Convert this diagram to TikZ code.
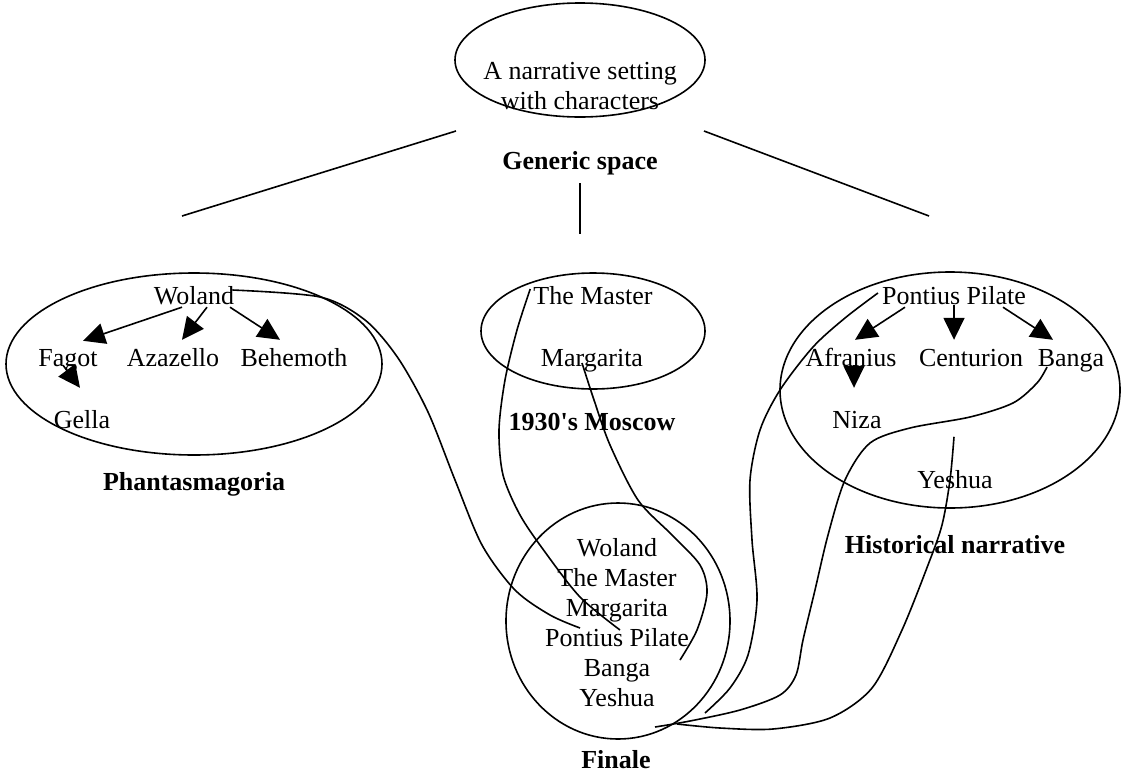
\documentclass[tikz,border=0pt]{standalone}
\usepackage{fontspec}
\setmainfont{Liberation Serif}
\usetikzlibrary{shapes.geometric,arrows.meta}

\begin{document}
\begin{tikzpicture}[x=1pt,y=-1pt,
  every node/.style={font=\fontsize{26}{30}\selectfont, inner sep=0pt},
  who/.style={text height=18pt, text depth=6pt},
  title/.style={font=\fontsize{26}{30}\selectfont\bfseries},
  space/.style={draw, ellipse, line width=1.6pt},
  rel/.style={-{Triangle[length=22pt,width=21pt]}, line width=1.6pt},
  blend/.style={line width=1.6pt}]
\useasboundingbox (0,0) rectangle (1121,774);
% Generic space at the top, with its three lines down to the input spaces
\node[space, minimum width=250, minimum height=114] (generic) at (580,60) {};
\node[align=center] (gentext) at (580,86) {A narrative setting\\with characters};
\node[title] (genlabel) at (580,163) {Generic space};
\coordinate (gl1) at (456,131); \coordinate (gl2) at (182,216);
\coordinate (gr1) at (704,131); \coordinate (gr2) at (929,216);
\coordinate (gm1) at (580,183); \coordinate (gm2) at (580,234);
\draw[blend] (gl1) -- (gl2);
\draw[blend] (gr1) -- (gr2);
\draw[blend] (gm1) -- (gm2);
% Phantasmagoria: Woland and his retinue
\node[space, minimum width=376, minimum height=182] (phant) at (194,364) {};
\node[who] (woland) at (194,298) {Woland};
\node[who] (fagot) at (68,360) {Fagot};
\node[who] (azazello) at (173,360) {Azazello};
\node[who] (behemoth) at (294,360) {Behemoth};
\node[who] (gella) at (82,422) {Gella};
\node[title] (phantlabel) at (194,484) {Phantasmagoria};
\draw[rel] ([shift={(-12,-3)}]woland.south) -- ([shift={(15,-7)}]fagot.north);
\draw[rel] ([shift={(13,-3)}]woland.south) -- ([shift={(9,-8)}]azazello.north);
\draw[rel] ([shift={(36,-3)}]woland.south) -- ([shift={(-14,-8)}]behemoth.north);
\draw[rel] ([shift={(-5,-7)}]fagot.south) -- ([shift={(-2,-22)}]gella.north);
% 1930's Moscow
\node[space, minimum width=224, minimum height=116] (moscow) at (593,331) {};
\node[who] (master) at (593,298) {The Master};
\node[who] (margarita) at (592,360) {Margarita};
\node[title] (moscowlabel) at (592,422) {1930\textquotesingle s Moscow};
% Historical narrative: Pilate and the people round him
\node[space, minimum width=340, minimum height=236] (hist) at (950,390) {};
\node[who] (pilate) at (954,298) {Pontius Pilate};
\node[who] (afranius) at (851,360) {Afranius};
\node[who] (centurion) at (971,360) {Centurion};
\node[who] (banga) at (1071,360) {Banga};
\node[who] (niza) at (857,422) {Niza};
\node[who] (yeshua) at (955,482) {Yeshua};
\node[title] (histlabel) at (955,545) {Historical narrative};
\draw[rel] ([shift={(-49,-3)}]pilate.south) -- ([shift={(4,-8)}]afranius.north);
\draw[rel] ([shift={(0,-5)}]pilate.south) -- ([shift={(-17,-8)}]centurion.north);
\draw[rel] ([shift={(49,-3)}]pilate.south) -- ([shift={(-18,-8)}]banga.north);
\draw[rel] ([shift={(3,-7)}]afranius.south) -- ([shift={(-3,-22)}]niza.north);
% Finale, the blended space
\node[space, minimum width=224, minimum height=236] (finale) at (618,621) {};
\node[align=center] (fintext) at (617,623) {Woland\\The Master\\Margarita\\Pontius Pilate\\Banga\\Yeshua};
\node[title] (finlabel) at (616,760) {Finale};
% Projections from the input spaces into the finale
\draw[blend] plot[smooth] coordinates {([shift={(-2,-8)}]woland.east) (320,297) (365,320) (398,358) (428,412) (455,480) (482,545) (515,590) (550,615) ([shift={(-37,5)}]fintext.center)};
\draw[blend] plot[smooth] coordinates {([shift={(-3,-9)}]master.west) (517,330) (505,380) (499,430) (503,475) (520,515) (545,552) (580,597) ([shift={(3,7)}]fintext.center)};
\draw[blend] plot[smooth] coordinates {([shift={(-10,3)}]margarita.center) (594,400) (610,445) (638,500) (672,535) (700,565) (707,593) (697,630) ([shift={(63,37)}]fintext.center)};
\draw[blend] plot[smooth] coordinates {([shift={(-4,-5)}]pilate.west) (845,318) (813,347) (780,390) (760,430) (750,480) (752,540) (757,600) (748,655) (730,688) ([shift={(88,90)}]fintext.center)};
\draw[blend] plot[smooth] coordinates {([shift={(-24,7)}]banga.center) (1037,383) (1013,403) (970,417) (910,428) (870,443) (845,480) (828,535) (815,590) (803,640) (796,675) (780,695) (740,710) (690,721) ([shift={(38,104)}]fintext.center)};
\draw[blend] plot[smooth] coordinates {([shift={(-1,-33)}]yeshua.north) (950,480) (942,525) (928,565) (902,630) (872,688) (830,718) (773,729) (720,728) ([shift={(60,101)}]fintext.center)};
\end{tikzpicture}
\end{document}
